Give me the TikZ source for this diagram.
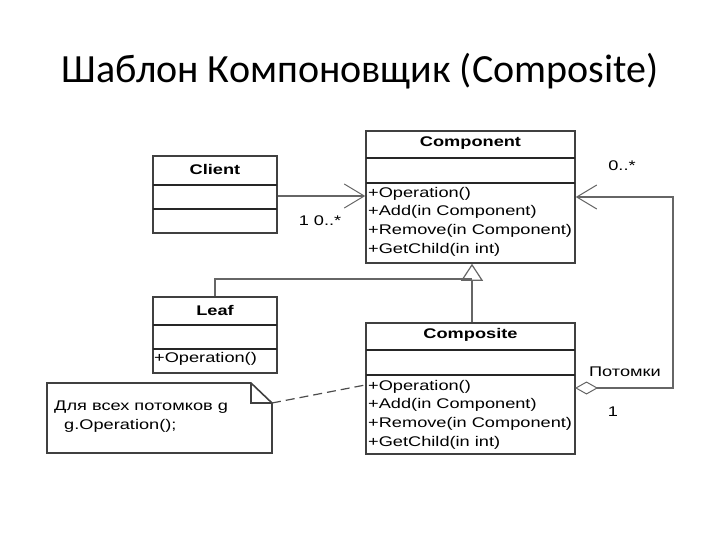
\documentclass[tikz,border=0pt]{standalone}
\usepackage{fontspec}
\setmainfont{Liberation Sans}
\newfontfamily\titlefont{Carlito}
\newfontfamily\umlfont[FakeStretch=1.3]{Liberation Sans}
\usetikzlibrary{positioning,arrows.meta}

\tikzset{
  classbox/.style={draw=black!75, line width=1.6pt, rectangle, inner sep=0pt},
  divider/.style={draw=black!85, line width=1.2pt},
  umltext/.style={inner sep=0pt, font=\umlfont\fontsize{14}{18.6}\selectfont},
  headtext/.style={umltext, font=\umlfont\bfseries\fontsize{14}{18}\selectfont},
  opentip/.style={-{Straight Barb[length=20pt,width=24pt,line width=1pt]}},
  gentip/.style={-{Triangle[open,length=17pt,width=22pt,line width=1.2pt]}},
  link/.style={draw=black!60, line width=1.6pt},
}

\begin{document}
\begin{tikzpicture}[x=1pt, y=-1pt]
\useasboundingbox (0,0) rectangle (720,540);

% title
\node[inner sep=0pt, font=\titlefont\fontsize{40}{44}\selectfont] (title) at (360,71) {Шаблон Компоновщик (Composite)};

% Component
\node[classbox, minimum width=209pt, minimum height=132pt] (comp) at (470.5,197) {};
\draw[divider] (366,158) -- (575,158);
\draw[divider] (366,183) -- (575,183);
\node[headtext] (compname) at (470.5,143) {Component};
\node[umltext, anchor=north west, align=left] (compops) at (368,187)
  {+Operation()\\+Add(in Component)\\+Remove(in Component)\\+GetChild(in int)};

% Client
\node[classbox, minimum width=124pt, minimum height=77pt] (client) at (215,194.5) {};
\draw[divider] (153,185) -- (277,185);
\draw[divider] (153,209) -- (277,209);
\node[headtext] (clientname) at (215,169) {Client};

% Leaf
\node[classbox, minimum width=124pt, minimum height=76pt] (leaf) at (215,335) {};
\draw[divider] (153,325) -- (277,325);
\draw[divider] (153,349) -- (277,349);
\node[headtext] (leafname) at (215,310) {Leaf};
\node[umltext, anchor=west] (leafops) at (154,359) {+Operation()};

% Composite
\node[classbox, minimum width=209pt, minimum height=131pt] (compo) at (470.5,388.5) {};
\draw[divider] (366,350) -- (575,350);
\draw[divider] (366,375) -- (575,375);
\node[headtext] (componame) at (470.5,335) {Composite};
\node[umltext, anchor=north west, align=left] (compoops) at (368,380)
  {+Operation()\\+Add(in Component)\\+Remove(in Component)\\+GetChild(in int)};

% note
\coordinate (fold) at (251,383);
\coordinate (notecorner) at (272,403);
\draw[classbox] (47,383) -- (fold) -- (notecorner) -- (272,453) -- (47,453) -- cycle;
\draw[black!75, line width=1.2pt] (fold) -- (251,403) -- (notecorner);
\node[umltext, anchor=north west, align=left] (notetext) at (54,401)
  {Для всех потомков g\\\hspace{10pt}g.Operation();};

% connectors
\coordinate (tribase) at (472,279);
\coordinate (loop) at (673,197);
\coordinate (aggstart) at (575,388);
\draw[link, opentip] (client.east |- 0,196) -- (comp.west |- 0,196);
\draw[link, gentip] (compo.north -| tribase) -- (comp.south -| tribase);
\draw[link] (leaf.north) |- (tribase);
\draw[link, {Diamond[open,length=23pt,width=13pt,line width=1pt]}-{Straight Barb[length=20pt,width=24pt,line width=1pt]}]
  (aggstart) -| (loop) -- (loop -| comp.east);
\draw[black!70, line width=1.2pt, dash pattern=on 9pt off 5pt] (notecorner) -- (compo.west |- 0,385);

% labels
\node[umltext] (clientmult) at (320,221) {1 0..*};
\node[umltext] (childmult) at (622,166) {0..*};
\node[umltext] (childrole) at (625,372) {Потомки};
\node[umltext] (compomult) at (613,412) {1};
\end{tikzpicture}
\end{document}
